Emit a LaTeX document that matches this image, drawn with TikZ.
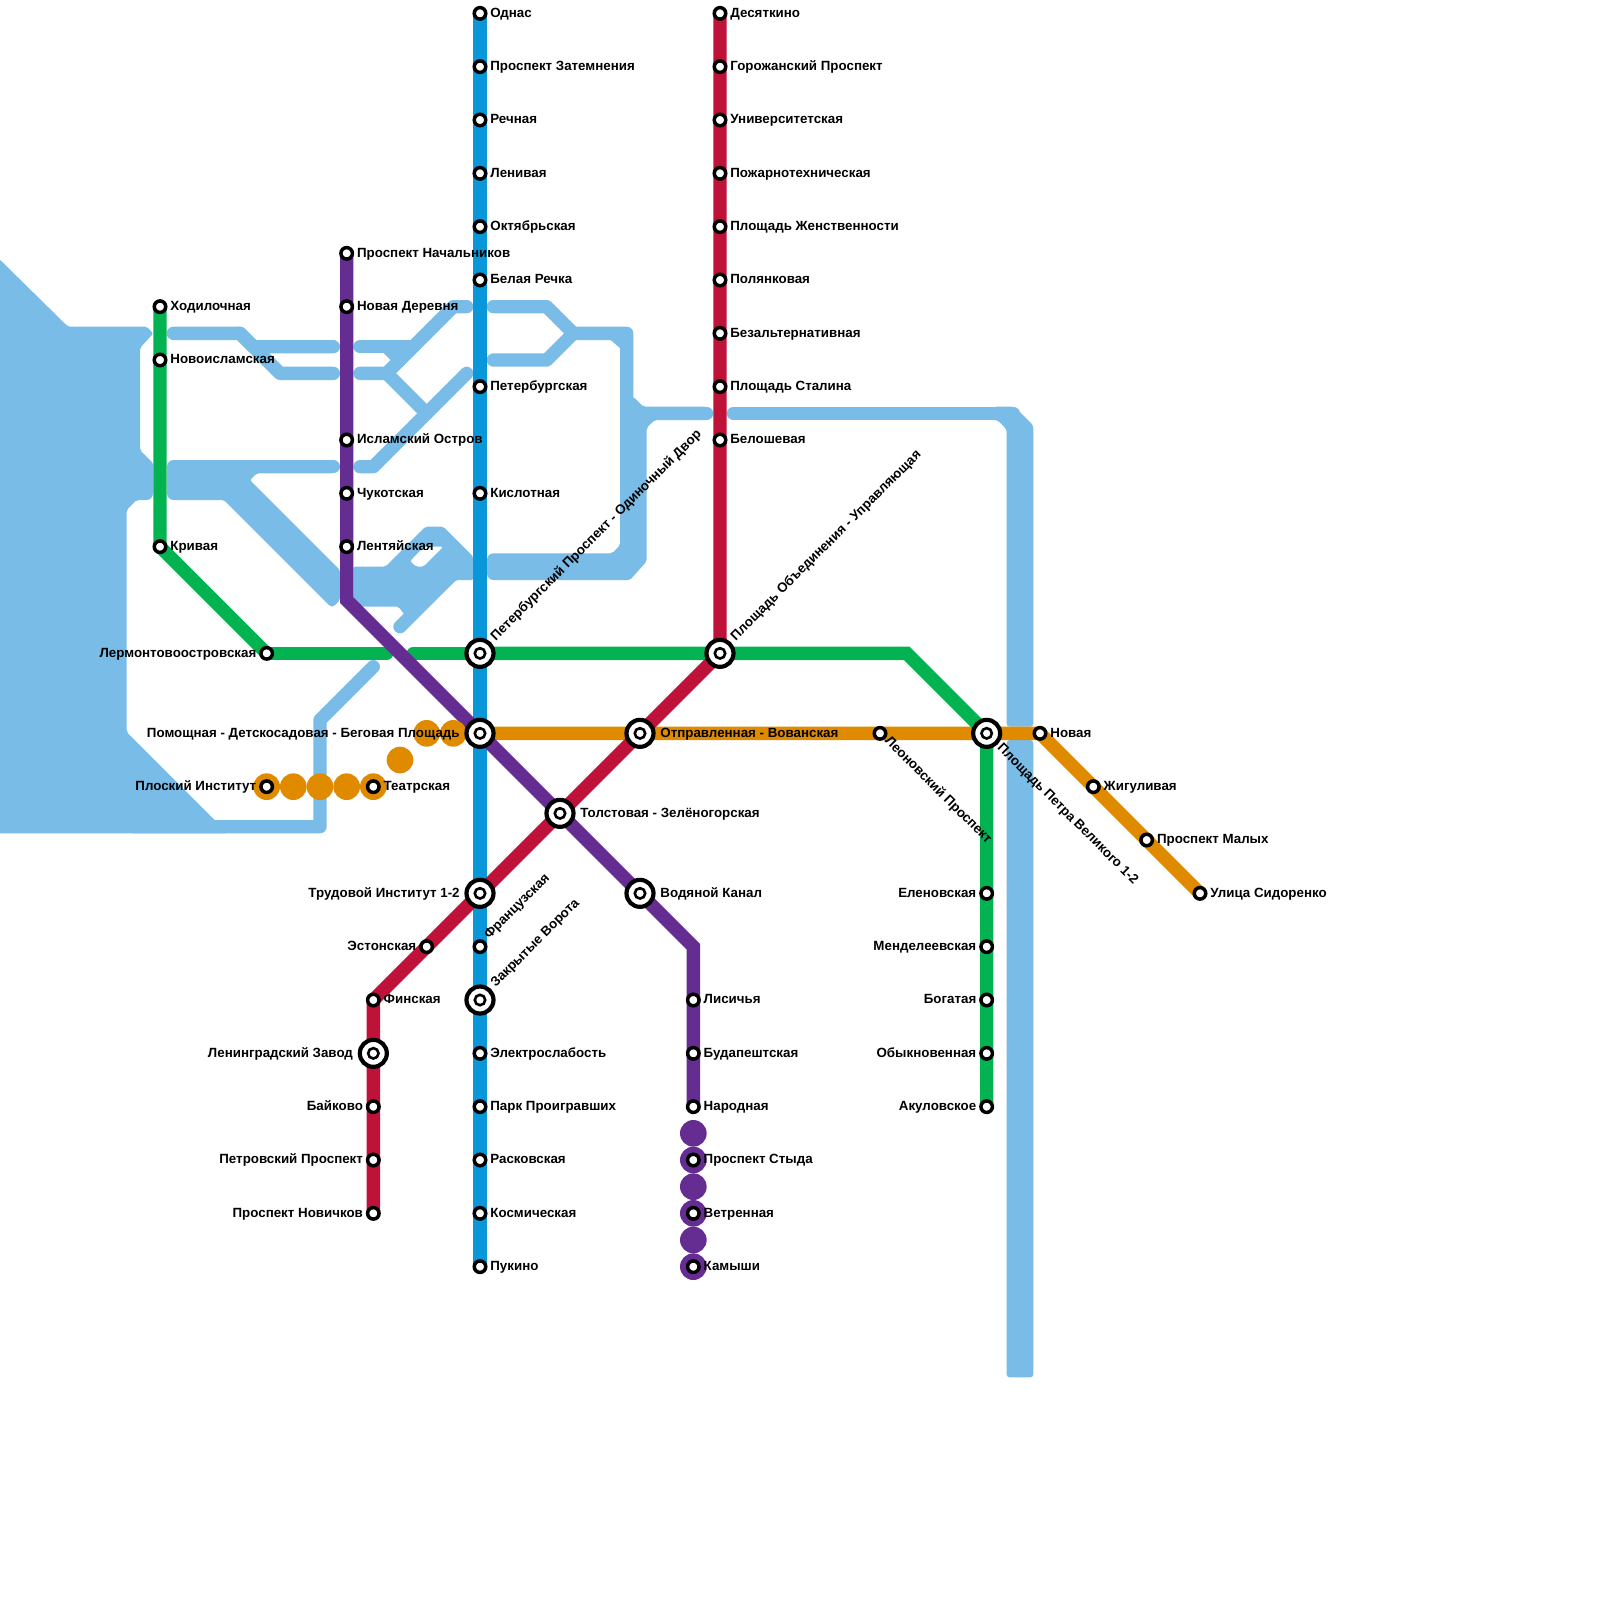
\documentclass[tikz,border=0pt]{standalone}
\usepackage{fontspec}
\setmainfont{Liberation Sans}
\usetikzlibrary{backgrounds}
\definecolor{lakeblue}{HTML}{7ABCE8}
\definecolor{lineblue}{HTML}{0A97D9}
\definecolor{linegreen}{HTML}{03B352}
\definecolor{linepurple}{HTML}{652C91}
\definecolor{linered}{HTML}{BE1238}
\definecolor{lineorange}{HTML}{E08A00}

\begin{document}
\begin{tikzpicture}[
        x=6.6667pt, y=-6.6667pt,
        lake/.style={fill=lakeblue, rounded corners=1pt},
        canal/.style={draw=lakeblue, line width=6.6667pt, line cap=round, line join=round},
        metro/.style={line width=6.6667pt},
        stn/.style={circle, draw=black, fill=white, line width=1.75pt, minimum size=5.75pt, inner sep=0pt, outer sep=0pt},
        hub/.style={circle, draw=black, fill=white, line width=2.1pt, minimum size=13.5pt, inner sep=0pt, outer sep=0pt,
            path picture={\draw[line width=1.3pt] (path picture bounding box.center) circle (2.6pt);}},
        odot/.style={circle, fill=lineorange, minimum size=13.33pt, inner sep=0pt, outer sep=0pt},
        pdot/.style={circle, fill=linepurple, minimum size=13.33pt, inner sep=0pt, outer sep=0pt},
        txt/.style={inner sep=0pt, font=\fontsize{6.67}{7}\selectfont\bfseries},
        labr/.style={txt, anchor=base west, xshift=5pt, yshift=-1.85pt},
        labl/.style={txt, anchor=base east, xshift=-5pt, yshift=-1.85pt},
        hubr/.style={txt, anchor=base west, xshift=10pt, yshift=-1.85pt},
        hubl/.style={txt, anchor=base east, xshift=-10pt, yshift=-1.85pt},
        labu/.style={txt, anchor=base west, rotate=45},
        labd/.style={txt, anchor=base west, rotate=-45}
    ]
        \useasboundingbox (0,0) rectangle (120,120);
        % Decorative dots
        \node[odot] (od1) at (20,59) {};
        \node[odot] (od2) at (22,59) {};
        \node[odot] (od3) at (24,59) {};
        \node[odot] (od4) at (26,59) {};
        \node[odot] (od5) at (28,59) {};
        \node[odot] (od6) at (30,57) {};
        \node[odot] (od7) at (32,55) {};
        \node[odot] (od8) at (34,55) {};
        \node[pdot] (pd1) at (52,85) {};
        \node[pdot] (pd2) at (52,87) {};
        \node[pdot] (pd3) at (52,89) {};
        \node[pdot] (pd4) at (52,91) {};
        \node[pdot] (pd5) at (52,93) {};
        \node[pdot] (pd6) at (52,95) {};
        % Blue line
        \node[stn] (odnas) at (36,1) {};
        \node[labr] (odnas-t) at (odnas) {Однас};
        \node[stn] (zatem) at (36,5) {};
        \node[labr] (zatem-t) at (zatem) {Проспект Затемнения};
        \node[stn] (rech) at (36,9) {};
        \node[labr] (rech-t) at (rech) {Речная};
        \node[stn] (leniv) at (36,13) {};
        \node[labr] (leniv-t) at (leniv) {Ленивая};
        \node[stn] (oktyabr) at (36,17) {};
        \node[labr] (oktyabr-t) at (oktyabr) {Октябрьская};
        \node[stn] (belrech) at (36,21) {};
        \node[labr] (belrech-t) at (belrech) {Белая Речка};
        \node[stn] (peter) at (36,29) {};
        \node[labr] (peter-t) at (peter) {Петербургская};
        \node[stn] (kislot) at (36,37) {};
        \node[labr] (kislot-t) at (kislot) {Кислотная};
        \node[hub] (odin) at (36,49) {};
        \node[xshift=7.8pt, yshift=6pt, labu] (odin-t) at (odin) {Петербургский Проспект - Одиночный Двор};
        \node[hub] (begov) at (36,55) {};
        \node[hubl] (begov-t) at (begov) {Помощная - Детскосадовая - Беговая Площадь};
        \node[hub] (trud) at (36,67) {};
        \node[hubl] (trud-t) at (trud) {Трудовой Институт 1-2};
        \node[stn] (franc) at (36,71) {};
        \node[xshift=4.5pt, yshift=3.5pt, labu] (franc-t) at (franc) {Французская};
        \node[hub] (vorota) at (36,75) {};
        \node[xshift=7.8pt, yshift=6pt, labu] (vorota-t) at (vorota) {Закрытые Ворота};
        \node[stn] (elektro) at (36,79) {};
        \node[labr] (elektro-t) at (elektro) {Электрослабость};
        \node[stn] (park) at (36,83) {};
        \node[labr] (park-t) at (park) {Парк Проигравших};
        \node[stn] (raskov) at (36,87) {};
        \node[labr] (raskov-t) at (raskov) {Расковская};
        \node[stn] (kosmos) at (36,91) {};
        \node[labr] (kosmos-t) at (kosmos) {Космическая};
        \node[stn] (pukino) at (36,95) {};
        \node[labr] (pukino-t) at (pukino) {Пукино};
        % Red line
        \node[stn] (desyat) at (54,1) {};
        \node[labr] (desyat-t) at (desyat) {Десяткино};
        \node[stn] (gorozh) at (54,5) {};
        \node[labr] (gorozh-t) at (gorozh) {Горожанский Проспект};
        \node[stn] (univer) at (54,9) {};
        \node[labr] (univer-t) at (univer) {Университетская};
        \node[stn] (pozhar) at (54,13) {};
        \node[labr] (pozhar-t) at (pozhar) {Пожарнотехническая};
        \node[stn] (zhenst) at (54,17) {};
        \node[labr] (zhenst-t) at (zhenst) {Площадь Женственности};
        \node[stn] (polyan) at (54,21) {};
        \node[labr] (polyan-t) at (polyan) {Полянковая};
        \node[stn] (bezalt) at (54,25) {};
        \node[labr] (bezalt-t) at (bezalt) {Безальтернативная};
        \node[stn] (stalin) at (54,29) {};
        \node[labr] (stalin-t) at (stalin) {Площадь Сталина};
        \node[stn] (belosh) at (54,33) {};
        \node[labr] (belosh-t) at (belosh) {Белошевая};
        \node[hub] (obied) at (54,49) {};
        \node[xshift=7.8pt, yshift=6pt, labu] (obied-t) at (obied) {Площадь Объединения - Управляющая};
        \node[hub] (vovan) at (48,55) {};
        \node[hubr] (vovan-t) at (vovan) {Отправленная - Вованская};
        \node[hub] (tolst) at (42,61) {};
        \node[hubr] (tolst-t) at (tolst) {Толстовая - Зелёногорская};
        \node[stn] (eston) at (32,71) {};
        \node[labl] (eston-t) at (eston) {Эстонская};
        \node[stn] (finsk) at (28,75) {};
        \node[labr] (finsk-t) at (finsk) {Финская};
        \node[hub] (lenzav) at (28,79) {};
        \node[hubl] (lenzav-t) at (lenzav) {Ленинградский Завод};
        \node[stn] (baik) at (28,83) {};
        \node[labl] (baik-t) at (baik) {Байково};
        \node[stn] (petrov) at (28,87) {};
        \node[labl] (petrov-t) at (petrov) {Петровский Проспект};
        \node[stn] (novich) at (28,91) {};
        \node[labl] (novich-t) at (novich) {Проспект Новичков};
        % Purple line
        \node[stn] (nachal) at (26,19) {};
        \node[labr] (nachal-t) at (nachal) {Проспект Начальников};
        \node[stn] (novder) at (26,23) {};
        \node[labr] (novder-t) at (novder) {Новая Деревня};
        \node[stn] (islam) at (26,33) {};
        \node[labr] (islam-t) at (islam) {Исламский Остров};
        \node[stn] (chukot) at (26,37) {};
        \node[labr] (chukot-t) at (chukot) {Чукотская};
        \node[stn] (lentyai) at (26,41) {};
        \node[labr] (lentyai-t) at (lentyai) {Лентяйская};
        \coordinate (pbend1) at (26,45);
        \node[hub] (vodyan) at (48,67) {};
        \node[hubr] (vodyan-t) at (vodyan) {Водяной Канал};
        \coordinate (pbend2) at (52,71);
        \node[stn] (lisich) at (52,75) {};
        \node[labr] (lisich-t) at (lisich) {Лисичья};
        \node[stn] (budap) at (52,79) {};
        \node[labr] (budap-t) at (budap) {Будапештская};
        \node[stn] (narod) at (52,83) {};
        \node[labr] (narod-t) at (narod) {Народная};
        \node[stn] (styda) at (52,87) {};
        \node[labr] (styda-t) at (styda) {Проспект Стыда};
        \node[stn] (vetren) at (52,91) {};
        \node[labr] (vetren-t) at (vetren) {Ветренная};
        \node[stn] (kamysh) at (52,95) {};
        \node[labr] (kamysh-t) at (kamysh) {Камыши};
        % Green line
        \node[stn] (hodil) at (12,23) {};
        \node[labr] (hodil-t) at (hodil) {Ходилочная};
        \node[stn] (novisl) at (12,27) {};
        \node[labr] (novisl-t) at (novisl) {Новоисламская};
        \node[stn] (kriv) at (12,41) {};
        \node[labr] (kriv-t) at (kriv) {Кривая};
        \node[stn] (lermont) at (20,49) {};
        \node[labl] (lermont-t) at (lermont) {Лермонтовоостровская};
        \coordinate (gend1) at (29,49);
        \coordinate (gend2) at (31,49);
        \coordinate (gbend) at (68,49);
        \node[hub] (petra) at (74,55) {};
        \node[xshift=5pt, yshift=-7.5pt, labd] (petra-t) at (petra) {Площадь Петра Великого 1-2};
        \node[stn] (elen) at (74,67) {};
        \node[labl] (elen-t) at (elen) {Еленовская};
        \node[stn] (mendel) at (74,71) {};
        \node[labl] (mendel-t) at (mendel) {Менделеевская};
        \node[stn] (bogat) at (74,75) {};
        \node[labl] (bogat-t) at (bogat) {Богатая};
        \node[stn] (obykn) at (74,79) {};
        \node[labl] (obykn-t) at (obykn) {Обыкновенная};
        \node[stn] (akul) at (74,83) {};
        \node[labl] (akul-t) at (akul) {Акуловское};
        % Orange line
        \node[stn] (ploskii) at (20,59) {};
        \node[labl] (ploskii-t) at (ploskii) {Плоский Институт};
        \node[stn] (teatr) at (28,59) {};
        \node[labr] (teatr-t) at (teatr) {Театрская};
        \node[stn] (leonov) at (66,55) {};
        \node[xshift=2pt, yshift=-4pt, labd] (leonov-t) at (leonov) {Леоновский Проспект};
        \node[stn] (novaya) at (78,55) {};
        \node[labr] (novaya-t) at (novaya) {Новая};
        \node[stn] (zhigul) at (82,59) {};
        \node[labr] (zhigul-t) at (zhigul) {Жигуливая};
        \node[stn] (malyh) at (86,63) {};
        \node[labr] (malyh-t) at (malyh) {Проспект Малых};
        \node[stn] (sidor) at (90,67) {};
        \node[labr] (sidor-t) at (sidor) {Улица Сидоренко};

        \begin{scope}[on background layer]
            % Water
            \fill[lake] (-1,18.5) -- (5.1,24.5) -- (11,24.5) -- (11.5,25) -- (10.5,26.1) -- (10.5,33.75) -- (11.5,34.75) -- (11.5,37) -- (11,37.5) -- (10.25,37.5) -- (9.5,38.25) -- (9.5,54.9) -- (16.1,61.5) -- (17,62.5) -- (-1,62.5) -- cycle;
            \fill[lake] (13,34.5) -- (25,34.5) -- (25,35.5) -- (19.25,35.5) -- (18.75,36) -- (25.5,42.75) -- (25.5,45) -- (25,45.5) -- (24.8,45.5) -- (16.8,37.5) -- (13,37.5) -- cycle;
            \fill[lake, even odd rule] (26.5,42.5) -- (28.9,42.5) -- (31.9,39.5) -- (33.25,39.5) -- (35.5,41.75) -- (35.5,43.5) -- (34.2,43.5) -- (31,46.6) -- (30.25,46) -- (29.9,45.5) -- (26.5,45.5) -- cycle
                (30.75,42.08) -- (31.8,41) -- (33.25,41) -- (31.75,42.5) -- (31.2,42.5) -- cycle;
            \fill[lake] (37,41.5) -- (45.9,41.5) -- (46.5,40.9) -- (46.5,29.75) -- (47.5,29.75) -- (48.25,30.5) -- (53,30.5) -- (53,31.5) -- (49.1,31.5) -- (48.5,32.1) -- (48.5,42.1) -- (47.25,43.5) -- (37,43.5) -- cycle;
            \fill[lakeblue] (45.8,25.5) -- (46.5,26.1) -- (46.5,25.5) -- cycle;
            \fill[lake, rounded corners=1.5pt] (74.5,31.5) -- (74.8,31.5) -- (75.5,32.2) -- (75.5,54.5) -- (77.5,54.5) -- (77.5,31.9) -- (76.1,30.5) -- (74.5,30.5) -- cycle;
            \fill[lake, rounded corners=1.5pt] (75.5,55.5) rectangle (77.5,103.3);
            \draw[canal] (11,35) -- (11,37);
            \draw[canal] (13,35) -- (13,37);
            \draw[canal] (37,42) -- (37,43);
            \draw[canal] (13,25) -- (18,25) -- (19,26) -- (25,26);
            \draw[canal] (18,25) -- (21,28) -- (25,28);
            \draw[canal] (14,35) -- (25,35);
            \draw[canal] (27,26) -- (31,26);
            \draw[canal] (29,26) -- (30,27);
            \draw[canal] (27,28) -- (29,28) -- (34,23) -- (35,23);
            \draw[canal] (29,28) -- (32,31);
            \draw[canal] (35,28) -- (28,35) -- (27,35);
            \draw[canal] (30,47) -- (34,43);
            \draw[canal] (28,50) -- (24,54) -- (24,62) -- (10,62);
            \draw[canal] (37,23) -- (41,23) -- (43,25) -- (47,25) -- (47,30);
            \draw[canal] (37,27) -- (41,27) -- (43,25);
            \draw[canal] (50,31) -- (53,31);
            \draw[canal] (55,31) -- (76,31);
            % Lines
            \draw[metro, lineorange] (begov.center) -- (vovan.center) -- (leonov.center) -- (petra.center) -- (novaya.center) -- (zhigul.center) -- (malyh.center) -- (sidor.center);
            \draw[metro, lineblue] (odnas.center) -- (peter.center) -- (kislot.center) -- (odin.center) -- (begov.center) -- (trud.center) -- (vorota.center) -- (pukino.center);
            \draw[metro, linegreen] (hodil.center) -- (novisl.center) -- (kriv.center) -- (lermont.center);
            \draw[metro, linegreen, line cap=round] (lermont.center) -- (gend1);
            \draw[metro, linegreen, line cap=round] (gend2) -- (odin.center);
            \draw[metro, linegreen] (odin.center) -- (obied.center) -- (gbend) -- (petra.center) -- (elen.center) -- (akul.center);
            \draw[metro, linepurple] (nachal.center) -- (lentyai.center) -- (pbend1) -- (begov.center) -- (tolst.center) -- (vodyan.center) -- (pbend2) -- (narod.center);
            \draw[metro, linered] (desyat.center) -- (obied.center) -- (vovan.center) -- (tolst.center) -- (trud.center) -- (eston.center) -- (finsk.center) -- (lenzav.center) -- (novich.center);
        \end{scope}
    \end{tikzpicture}
\end{document}
